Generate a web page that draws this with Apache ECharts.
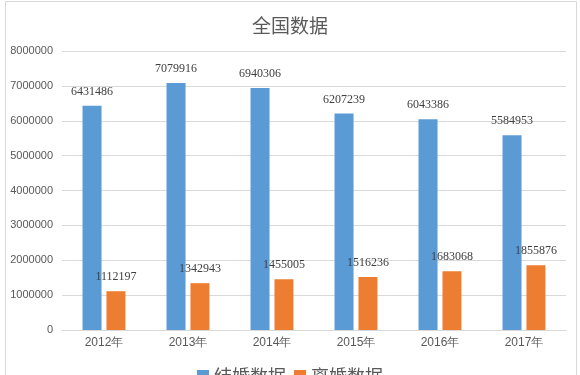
<!DOCTYPE html>
<html>
<head>
<meta charset="utf-8">
<script src="https://cdn.jsdelivr.net/npm/echarts@6/dist/echarts.min.js"></script>
<style>html,body{margin:0;padding:0;background:#fff;}#c{width:580px;height:375px;}</style>
</head>
<body>
<div id="c"></div>
<script>
const categories = ['2012年','2013年','2014年','2015年','2016年','2017年'];
const seriesNames = ['结婚数据','离婚数据'];
const marriage = [6431486, 7079916, 6940306, 6207239, 6043386, 5584953];
const divorce = [1112197, 1342943, 1455005, 1516236, 1683068, 1855876];
const yTicks = [0, 8000000, 1000000];

const chart = echarts.init(document.getElementById('c'));
const labelStyle = {show:true, position:'top', distance:8, color:'#404040', fontSize:12, fontFamily:'Liberation Serif'};
chart.setOption({
  animation:false,
  backgroundColor:'#fff',
  graphic:[{type:'rect', shape:{x:5.5, y:1.5, width:571, height:380}, style:{fill:'none', stroke:'#D9D9D9', lineWidth:1}, silent:true}],
  title:{text:'全国数据', left:'center', top:11, textStyle:{fontSize:19, fontWeight:'normal', color:'#595959', fontFamily:'Noto Sans CJK SC'}},
  legend:{data:seriesNames, left:'center', top:362, icon:'rect', itemWidth:12, itemHeight:12, itemGap:8,
    textStyle:{fontSize:18, color:'#595959', fontFamily:'Noto Sans CJK SC'}},
  grid:{left:62, right:14, top:51, bottom:45, containLabel:false},
  xAxis:{type:'category', data:categories,
    axisLine:{lineStyle:{color:'#D9D9D9'}}, axisTick:{show:false},
    axisLabel:{color:'#595959', fontSize:12, margin:7, fontFamily:'Liberation Sans'}},
  yAxis:{type:'value', min:yTicks[0], max:yTicks[1], interval:yTicks[2],
    axisLine:{show:false}, axisTick:{show:false},
    axisLabel:{color:'#595959', fontSize:11, margin:9, fontFamily:'Liberation Sans', formatter:v => String(v)},
    splitLine:{lineStyle:{color:'#D9D9D9'}}},
  series:[
    {name:seriesNames[0], type:'bar', data:marriage, barWidth:19, barGap:'26%', itemStyle:{color:'#5B9BD5'}, label:labelStyle},
    {name:seriesNames[1], type:'bar', data:divorce, barWidth:19, barGap:'26%', itemStyle:{color:'#ED7D31'}, label:labelStyle}
  ]
});
</script>
</body>
</html>
